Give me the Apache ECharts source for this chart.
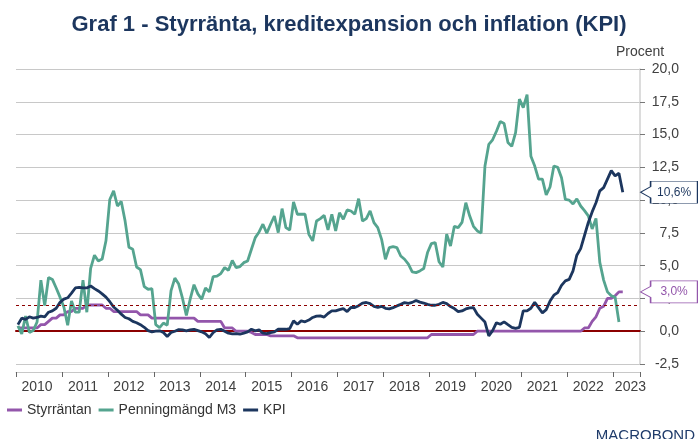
<!DOCTYPE html>
<html>
<head>
<meta charset="utf-8">
<script src="https://cdn.jsdelivr.net/npm/echarts@6/dist/echarts.min.js"></script>
<style>
  html, body { margin: 0; padding: 0; background: #fff; }
  #chart { width: 698px; height: 439px; }
</style>
</head>
<body>
<div id="chart"></div>
<script>
// monthly categories, Jan 2010 .. Jul 2023 (axis runs a bit past last obs)
const months = [];
for (let y = 2010; y <= 2023; y++) {
  for (let m = 1; m <= 12; m++) {
    if (y === 2023 && m > 7) break;
    months.push(y + '-' + String(m).padStart(2, '0'));
  }
}

// Styrräntan (repo rate), Jan 2010 - Mar 2023
const styrrantan = [
  0.25, 0.25, 0.25, 0.25, 0.25, 0.25, 0.5, 0.5, 0.75, 1.0, 1.0, 1.25,
  1.25, 1.5, 1.5, 1.75, 1.75, 1.75, 2.0, 2.0, 2.0, 2.0, 2.0, 1.75,
  1.75, 1.5, 1.5, 1.5, 1.5, 1.5, 1.5, 1.5, 1.25, 1.25, 1.25, 1.0,
  1.0, 1.0, 1.0, 1.0, 1.0, 1.0, 1.0, 1.0, 1.0, 1.0, 1.0, 0.75,
  0.75, 0.75, 0.75, 0.75, 0.75, 0.75, 0.25, 0.25, 0.25, 0.0, 0.0, 0.0,
  0.0, -0.1, -0.25, -0.25, -0.25, -0.25, -0.35, -0.35, -0.35, -0.35, -0.35, -0.35,
  -0.35, -0.5, -0.5, -0.5, -0.5, -0.5, -0.5, -0.5, -0.5, -0.5, -0.5, -0.5,
  -0.5, -0.5, -0.5, -0.5, -0.5, -0.5, -0.5, -0.5, -0.5, -0.5, -0.5, -0.5,
  -0.5, -0.5, -0.5, -0.5, -0.5, -0.5, -0.5, -0.5, -0.5, -0.5, -0.5, -0.5,
  -0.25, -0.25, -0.25, -0.25, -0.25, -0.25, -0.25, -0.25, -0.25, -0.25, -0.25, -0.25,
  0, 0, 0, 0, 0, 0, 0, 0, 0, 0, 0, 0,
  0, 0, 0, 0, 0, 0, 0, 0, 0, 0, 0, 0,
  0, 0, 0, 0, 0.25, 0.25, 0.75, 1.1, 1.75, 1.9, 2.5, 2.5,
  2.7, 3.0, 3.0
];

// Penningmängd M3, annual growth, Jan 2010 - Feb 2023
const m3 = [
  0.4, -0.2, 1.15, -0.1, 0.05, 0.7, 3.9, 1.95, 4.1, 3.95, 3.3, 2.6,
  1.85, 0.45, 2.3, 1.45, 1.45, 3.9, 1.45, 4.8, 5.8, 5.35, 5.5, 6.9,
  10.05, 10.7, 9.55, 9.9, 8.4, 6.4, 6.25, 4.9, 4.7, 3.4, 3.2, 3.25,
  0.5, 0.28, 0.62, 0.46, 3.1, 4.05, 3.6, 2.5, 1.2, 2.44, 3.55, 2.85,
  2.44, 3.3, 3.0, 4.17, 4.2, 4.4, 4.85, 4.65, 5.4, 4.85, 4.93, 5.23,
  5.36, 6.25, 7.14, 7.57, 8.16, 7.47, 8.16, 8.79, 7.52, 9.35, 7.9, 7.72,
  9.86, 8.92, 8.92, 8.92, 7.39, 6.89, 8.41, 8.59, 8.84, 7.72, 8.92, 7.65,
  9.04, 8.54, 9.25, 9.17, 8.92, 10.11, 8.41, 8.59, 9.17, 8.28, 7.9, 7.01,
  5.49, 6.38, 6.45, 6.38, 5.74, 5.49, 5.11, 4.52, 4.47, 4.6, 4.78, 6.0,
  6.68, 6.76, 5.3, 4.9, 7.4, 6.5, 8.0, 7.9, 8.3, 9.8, 8.8, 8.0,
  7.65, 7.5, 12.6, 14.25, 14.6, 15.25, 16.0, 15.85, 14.4, 14.1, 15.15, 17.7,
  17.05, 18.05, 13.35, 12.6, 11.6, 11.6, 10.4, 11.0, 12.6, 12.5, 11.7, 10.05,
  10.0, 9.7, 10.1, 9.55, 9.2, 8.8, 7.8, 8.6, 5.25, 3.9, 3.0, 2.7,
  2.6, 0.7
];

// KPI, annual change, Jan 2010 - Mar 2023
const kpi = [
  0.5, 1.0, 0.9, 1.1, 1.0, 1.05, 1.15, 1.1, 1.45, 1.55, 1.75, 2.2,
  2.45, 2.55, 2.9, 3.3, 3.35, 3.3, 3.3, 3.45, 3.25, 3.07, 2.85, 2.6,
  2.25, 1.85, 1.6, 1.3, 1.05, 0.95, 0.75, 0.65, 0.5, 0.3, 0.05, -0.05,
  0.0, 0.03, -0.1, -0.4, -0.1, 0.0, 0.12, 0.1, 0.03, 0.1, 0.15, 0.05,
  -0.05, -0.2, -0.48, -0.1, 0.1, 0.15, 0.0, -0.15, -0.2, -0.18, -0.23, -0.15,
  -0.05, 0.15, 0.03, 0.1, -0.15, -0.18, -0.1, -0.05, 0.15, 0.15, 0.15, 0.2,
  0.79, 0.53, 0.79, 0.72, 0.85, 1.05, 1.15, 1.17, 1.08, 1.35, 1.55, 1.55,
  1.65, 1.73, 1.5, 1.81, 1.81, 1.95, 2.15, 2.19, 2.1, 1.9, 1.82, 1.9,
  1.75, 1.7, 1.8, 1.93, 2.05, 2.18, 2.13, 2.2, 2.35, 2.22, 2.15, 2.05,
  1.98, 1.98, 2.05, 2.2, 2.1, 1.88, 1.73, 1.5, 1.55, 1.7, 1.78, 1.8,
  1.3, 1.0, 0.7, -0.35, 0.05, 0.65, 0.53, 0.71, 0.5, 0.3, 0.22, 0.3,
  1.55, 1.55, 1.75, 2.2, 1.8, 1.4, 1.65, 2.3, 2.75, 2.95, 3.5, 3.84,
  3.95, 4.6, 5.8, 6.3, 7.3, 8.3, 9.1, 9.8, 10.7, 10.95, 11.6, 12.25,
  11.85, 12.05, 10.6
];

const inflationTarget = 2;

const font = 'Liberation Sans, Arial, sans-serif';
const navy = '#1c365e';
const purple = '#9356ab';
const green = '#55a48f';
const darkRed = '#8c0000';

const fmt = v => v.toFixed(1).replace('.', ',');
const lastMonth = months[months.length - 1];

// box with an arrow pointing left at the axis
function callout(values, color) {
  const v = values[values.length - 1];
  return {
    silent: true,
    animation: false,
    data: [{ coord: [lastMonth, v], value: v }],
    symbol: 'path://M0 11 L10 5.5 L10 0 L57 0 L57 22 L10 22 L10 16.5 Z',
    symbolSize: [57, 22],
    symbolOffset: [31, 0],
    itemStyle: { color: '#fff', borderColor: color, borderWidth: 1 },
    label: {
      show: true, position: 'inside', offset: [5, 0],
      color: color, fontSize: 12, fontFamily: font,
      formatter: p => fmt(p.value) + '%'
    }
  };
}

const lineSeries = (name, data, color) => ({
  name: name,
  type: 'line',
  data: data,
  showSymbol: false,
  symbol: 'none',
  color: color,
  lineStyle: { width: 2.8, color: color },
  emphasis: { disabled: true }
});

const chart = echarts.init(document.getElementById('chart'));
chart.setOption({
  animation: false,
  textStyle: { fontFamily: font },
  title: {
    text: 'Graf 1 - Styrränta, kreditexpansion och inflation (KPI)',
    left: 'center',
    top: 9,
    textStyle: { color: navy, fontSize: 22, fontWeight: 'bold', fontFamily: font }
  },
  grid: { left: 16, right: 58, top: 69, bottom: 75, containLabel: false },
  legend: {
    left: 7,
    top: 403,
    padding: 0,
    icon: 'rect',
    itemWidth: 15,
    itemHeight: 3,
    itemGap: 7,
    textStyle: { color: '#333', fontSize: 14, fontFamily: font },
    data: ['Styrräntan', 'Penningmängd M3', 'KPI']
  },
  xAxis: [
    {
      type: 'category',
      data: months,
      boundaryGap: true,
      offset: 8,
      axisLine: { show: true, onZero: false, lineStyle: { color: '#c8c8c8', width: 1 } },
      axisTick: {
        show: true, length: 5,
        interval: (i, v) => v.endsWith('-01'),
        lineStyle: { color: '#666' }
      },
      axisLabel: {
        interval: (i, v) => (v < '2023' && v.endsWith('-06')) || v === '2023-05',
        formatter: v => v.slice(0, 4),
        color: '#404040', fontSize: 14, margin: 8
      },
      splitLine: { show: false }
    },
    // second x axis only to draw the zero line (axis lines sit under the series)
    {
      type: 'category',
      data: months,
      boundaryGap: true,
      position: 'bottom',
      axisLine: { show: true, onZero: true, lineStyle: { color: darkRed, width: 2 } },
      axisTick: { show: false },
      axisLabel: { show: false },
      splitLine: { show: false }
    }
  ],
  yAxis: {
    type: 'value',
    position: 'right',
    min: -2.5,
    max: 20,
    interval: 2.5,
    name: 'Procent',
    nameLocation: 'end',
    nameGap: 10,
    nameTextStyle: { color: '#404040', fontSize: 14, align: 'center' },
    axisLine: { show: true, lineStyle: { color: '#d0d0d0', width: 1.5 } },
    axisTick: { show: true, length: 5, lineStyle: { color: '#777' } },
    axisLabel: { color: '#404040', fontSize: 14, align: 'right', margin: 39, formatter: v => fmt(v) },
    splitLine: { lineStyle: { color: '#c8c8c8', width: 1 } }
  },
  series: [
    Object.assign(lineSeries('Styrräntan', styrrantan, purple), {
      markPoint: callout(styrrantan, purple),
      markLine: {
        silent: true,
        symbol: 'none',
        animation: false,
        label: { show: false },
        data: [{ yAxis: inflationTarget, lineStyle: { color: darkRed, width: 1, type: [3, 3] } }]
      }
    }),
    lineSeries('Penningmängd M3', m3, green),
    Object.assign(lineSeries('KPI', kpi, navy), { markPoint: callout(kpi, navy) })
  ],
  graphic: [
    {
      type: 'text',
      right: 3,
      top: 428,
      style: { text: 'MACROBOND', fill: '#1f3b6a', font: '15px ' + font }
    }
  ]
});
</script>
</body>
</html>
